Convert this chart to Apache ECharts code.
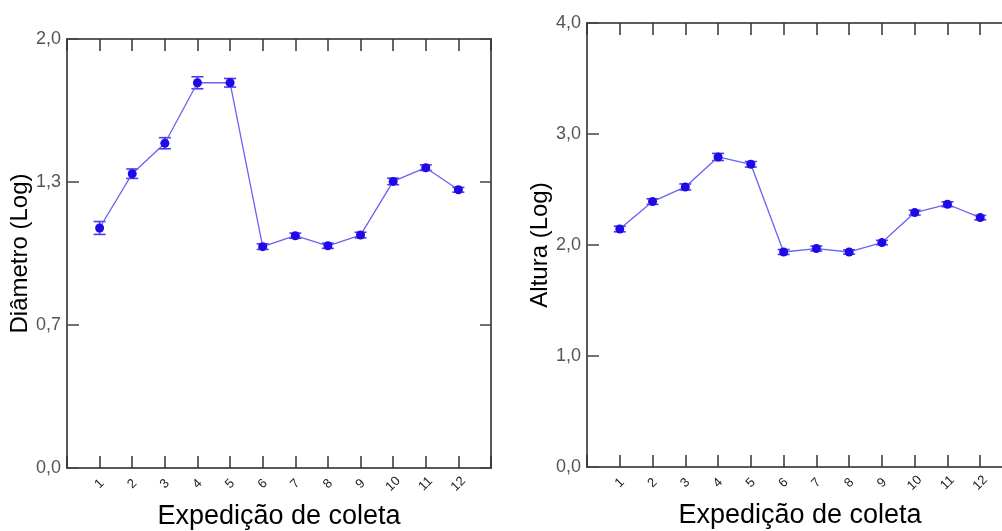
<!DOCTYPE html>
<html>
<head>
<meta charset="utf-8">
<script src="https://cdn.jsdelivr.net/npm/echarts@6/dist/echarts.min.js"></script>
<style>
html,body{margin:0;padding:0;background:#fff;}
#c{width:1002px;height:531px;}
</style>
</head>
<body>
<div id="c"></div>
<script>
// ---- data ----
const expeditions = [1,2,3,4,5,6,7,8,9,10,11,12];
const xTickLabels = ['1','2','3','4','5','6','7','8','9','10','11','12'];
const diamMean = [1.119,1.372,1.514,1.796,1.796,1.032,1.083,1.036,1.086,1.336,1.400,1.297];
const diamErr  = [0.030,0.022,0.026,0.028,0.020,0.013,0.012,0.012,0.013,0.015,0.013,0.011];
const altMean  = [2.144,2.391,2.523,2.793,2.727,1.937,1.968,1.937,2.022,2.292,2.367,2.247];
const altErr   = [0.025,0.025,0.027,0.032,0.025,0.022,0.022,0.020,0.020,0.022,0.022,0.020];
const diamTitle = 'Diâmetro (Log)';
const altTitle = 'Altura (Log)';
const xTitle = 'Expedição de coleta';

const FONT = '"Liberation Sans", Arial, sans-serif';
const AXIS_COLOR = '#5a5a5a';
const LINE_COLOR = '#6a62f4';
const MARK_COLOR = '#1f0ae6';
const ERR_COLOR = '#4a3cf0';

function fmtComma(v){ return v.toFixed(1).replace('.', ','); }

function xAxes(gi){
  return [
    {
      type:'value', gridIndex:gi, min:0, max:13, interval:1, position:'bottom',
      name: xTitle, nameLocation:'middle', nameGap:35,
      nameTextStyle:{fontFamily:FONT, fontSize:27, color:'#000'},
      axisLine:{show:true, onZero:false, lineStyle:{color:AXIS_COLOR, width:2}},
      axisTick:{show:true, inside:true, length:12, lineStyle:{color:'#333', width:1.5}},
      axisLabel:{show:true, rotate:45, align:'center', verticalAlign:'middle', margin:16,
        fontFamily:FONT, fontSize:13, color:'#222',
        formatter: v => (v>=1 && v<=12) ? xTickLabels[v-1] : ''},
      splitLine:{show:false}
    },
    {
      type:'value', gridIndex:gi, min:0, max:13, interval:1, position:'top',
      axisLine:{show:true, onZero:false, lineStyle:{color:AXIS_COLOR, width:2}},
      axisTick:{show:true, inside:true, length:12, lineStyle:{color:'#333', width:1.5}},
      axisLabel:{show:false}, splitLine:{show:false}
    }
  ];
}

function yAxes(gi, max, interval, title){
  return [
    {
      type:'value', gridIndex:gi, min:0, max:max, interval:interval, position:'left',
      name:title, nameLocation:'middle', nameGap:27, nameRotate:90,
      nameTextStyle:{fontFamily:FONT, fontSize:24, color:'#000'},
      axisLine:{show:true, onZero:false, lineStyle:{color:AXIS_COLOR, width:2}},
      axisTick:{show:true, inside:true, length:12, lineStyle:{color:'#444', width:1.5}},
      axisLabel:{show:true, margin:6, fontFamily:FONT, fontSize:18, color:'#555',
        formatter: v => fmtComma(v)},
      splitLine:{show:false}
    },
    {
      type:'value', gridIndex:gi, min:0, max:max, interval:interval, position:'right',
      axisLine:{show:true, onZero:false, lineStyle:{color:AXIS_COLOR, width:2}},
      axisTick:{show:true, inside:true, length:11, lineStyle:{color:'#444', width:1.5}},
      axisLabel:{show:false}, splitLine:{show:false}
    }
  ];
}

function errSeries(xi, yi, means, errs){
  return {
    type:'custom', xAxisIndex:xi, yAxisIndex:yi, z:2,
    data: expeditions.map((e,i)=>[e, means[i]-errs[i], means[i]+errs[i]]),
    renderItem: function(params, api){
      const x = api.value(0);
      const lo = api.coord([x, api.value(1)]);
      const hi = api.coord([x, api.value(2)]);
      const hw = 6;
      const st = {stroke:ERR_COLOR, lineWidth:1.6};
      return {type:'group', children:[
        {type:'line', shape:{x1:lo[0], y1:lo[1], x2:hi[0], y2:hi[1]}, style:st},
        {type:'line', shape:{x1:lo[0]-hw, y1:lo[1], x2:lo[0]+hw, y2:lo[1]}, style:st},
        {type:'line', shape:{x1:hi[0]-hw, y1:hi[1], x2:hi[0]+hw, y2:hi[1]}, style:st}
      ]};
    }
  };
}

function lineSeries(xi, yi, means){
  return {
    type:'line', xAxisIndex:xi, yAxisIndex:yi, z:3,
    data: expeditions.map((e,i)=>[e, means[i]]),
    symbol:'circle', symbolSize:9, showSymbol:true,
    itemStyle:{color:MARK_COLOR},
    lineStyle:{color:LINE_COLOR, width:1.3},
    animation:false
  };
}

const chart = echarts.init(document.getElementById('c'), null, {renderer:'canvas'});
chart.setOption({
  animation:false,
  backgroundColor:'#fff',
  grid:[
    {left:67, top:39, width:424, height:429, containLabel:false, outerBoundsMode:'none'},
    {left:587, top:23, width:426, height:444, containLabel:false, outerBoundsMode:'none'}
  ],
  xAxis:[...xAxes(0), ...xAxes(1)],
  yAxis:[...yAxes(0, 2, 2/3, diamTitle), ...yAxes(1, 4, 1, altTitle)],
  series:[
    errSeries(0, 0, diamMean, diamErr),
    lineSeries(0, 0, diamMean),
    errSeries(2, 2, altMean, altErr),
    lineSeries(2, 2, altMean)
  ]
});
</script>
</body>
</html>
